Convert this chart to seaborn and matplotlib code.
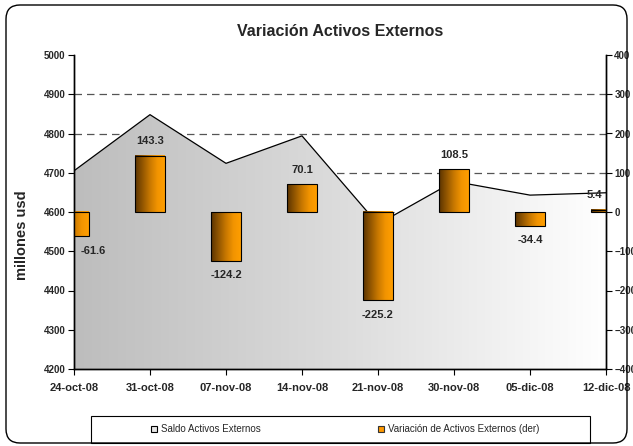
import numpy as np
import pandas as pd
import matplotlib
matplotlib.use("Agg")
import matplotlib.pyplot as plt
import seaborn as sns
from matplotlib.colors import LinearSegmentedColormap
from matplotlib.patches import FancyBboxPatch, Rectangle, Polygon
from matplotlib.lines import Line2D
from matplotlib.transforms import IdentityTransform

# ---- data ----
fechas = ["24-oct-08", "31-oct-08", "07-nov-08", "14-nov-08",
          "21-nov-08", "30-nov-08", "05-dic-08", "12-dic-08"]
saldo = [4705, 4848, 4724, 4794, 4569, 4678, 4643, 4649]
variacion = [-61.6, 143.3, -124.2, 70.1, -225.2, 108.5, -34.4, 5.4]
left_ticks = [4200, 4300, 4400, 4500, 4600, 4700, 4800, 4900, 5000]
right_ticks = [-400, -300, -200, -100, 0, 100, 200, 300, 400]
grid_levels = [4300, 4400, 4500, 4600, 4700, 4800, 4900]
titulo = "Variación Activos Externos"
ylabel = "millones usd"
leyenda = ["Saldo Activos Externos", "Variación de Activos Externos (der)"]

sns.set_theme(style="white")
plt.rcParams["font.family"] = ["Liberation Sans", "DejaVu Sans"]
plt.rcParams["font.weight"] = "bold"

df = pd.DataFrame({"pos": np.arange(len(fechas)), "fecha": fechas,
                   "saldo": saldo, "variacion": variacion})

W, H = 633, 446
fig = plt.figure(figsize=(W / 100, H / 100), dpi=100)
fig.patch.set_facecolor("white")
ax = fig.add_axes([74 / W, 1 - 369 / H, 532 / W, 314 / H])
ax.set_facecolor("white")

# dashed gridlines (behind the area)
ax.hlines(grid_levels, 0, len(fechas) - 1, colors="#555555", linestyles=(0, (6, 4)),
          linewidth=0.9, zorder=0.5)

# area with horizontal gradient
sns.lineplot(data=df, x="pos", y="saldo", ax=ax, color="black", linewidth=0.9,
             zorder=3, legend=False)
verts = [(df["pos"].iloc[0], left_ticks[0])] + list(zip(df["pos"], df["saldo"])) + \
        [(df["pos"].iloc[-1], left_ticks[0])]
poly = Polygon(verts, closed=True, facecolor="none", edgecolor="none")
ax.add_patch(poly)
area_cmap = LinearSegmentedColormap.from_list("area", ["#bdbdbd", "#dcdcdc", "#ffffff"])
grad = np.linspace(0, 1, 256).reshape(1, -1)
im = ax.imshow(grad, extent=(0, len(fechas) - 1, left_ticks[0], left_ticks[-1]),
               aspect="auto", cmap=area_cmap, zorder=1, interpolation="bicubic")
im.set_clip_path(poly)

ax.set_xlim(0, len(fechas) - 1)
ax.set_ylim(left_ticks[0], left_ticks[-1])
ax.set_yticks(left_ticks)
ax.set_xticks(df["pos"])
ax.set_xticklabels(fechas)

# bars on secondary axis
ax2 = ax.twinx()
sns.barplot(data=df, x="pos", y="variacion", ax=ax2, native_scale=True, width=0.39,
            color="#ff9900", edgecolor="black", linewidth=0.8, zorder=2)
bar_cmap = LinearSegmentedColormap.from_list(
    "bar", [(0, "#5a3300"), (0.5, "#c87800"), (0.75, "#f29400"), (1, "#ff9e00")])
for p in list(ax2.patches):
    x0, y0 = p.get_x(), p.get_y()
    w, h = p.get_width(), p.get_height()
    gi = ax2.imshow(grad, extent=(x0, x0 + w, y0, y0 + h), aspect="auto",
                    cmap=bar_cmap, zorder=1.5, interpolation="bicubic")
    gi.set_clip_path(p)
    gi.set_clip_box(ax2.bbox)
    gi.set_clip_on(True)
    p.set_facecolor("none")
    p.set_clip_box(ax2.bbox)
    p.set_clip_on(True)

ax2.set_xlim(0, len(fechas) - 1)
ax2.set_ylim(right_ticks[0], right_ticks[-1])
ax2.set_yticks(right_ticks)
ax2.set_ylabel("")
ax2.set_xlabel("")

# data labels
n = len(variacion)
for i, v in enumerate(variacion):
    dx = 0
    if i == 0:
        dx = 14
    elif i == n - 1:
        dx = -8
    dy = 10.5 if v > 0 else -10.5
    ax2.annotate(f"{v:.1f}", (df["pos"].iloc[i], v), xytext=(dx, dy),
                 textcoords="offset points", ha="center", va="center",
                 fontsize=8, fontweight="bold", annotation_clip=False, zorder=5)

# axes styling
for a in (ax, ax2):
    a.spines["top"].set_visible(False)
    for s in ("left", "right", "bottom"):
        a.spines[s].set_color("black")
        a.spines[s].set_linewidth(1.0)
ax.tick_params(axis="y", left=True, length=4, width=0.8, color="black",
               labelsize=7, pad=2)
ax.tick_params(axis="x", bottom=True, length=4, width=0.8, color="black",
               labelsize=8, pad=6)
ax2.tick_params(axis="y", right=True, length=4, width=0.8, color="black",
                labelsize=7, pad=2)
ax.set_xlabel("")
ax.set_ylabel(ylabel, fontsize=10.5, fontweight="bold")
ax.yaxis.set_label_coords(-0.085, 0.427)

# title
fig.text(340 / W, 1 - 32 / H, titulo, ha="center", va="center",
         fontsize=11.5, fontweight="bold")

# legend box
fig.add_artist(Rectangle((91 / W, 3 / H), 499 / W, 27 / H, transform=fig.transFigure,
                         facecolor="white", edgecolor="black", linewidth=0.8, zorder=1))
handles = [
    Line2D([], [], marker="s", linestyle="none", markersize=5,
           markerfacecolor="#e6e6e6", markeredgecolor="black", markeredgewidth=0.8),
    Line2D([], [], marker="s", linestyle="none", markersize=5,
           markerfacecolor="#ff9900", markeredgecolor="#333333", markeredgewidth=0.8),
]
leg = fig.legend(handles, leyenda, loc="center left",
                 bbox_to_anchor=(150 / W, 1 - 429.5 / H), ncol=2, frameon=False,
                 prop={"size": 7, "weight": "normal"}, columnspacing=12.0,
                 handlelength=0.8, handletextpad=0.3, borderpad=0, borderaxespad=0)
leg.set_zorder(2)

# outer rounded frame
fig.add_artist(FancyBboxPatch((6, 3), 621, 438, boxstyle="round,pad=0,rounding_size=14",
                              transform=IdentityTransform(), facecolor="none",
                              edgecolor="black", linewidth=1.0, zorder=3))

fig.savefig("out.png", dpi=100)
